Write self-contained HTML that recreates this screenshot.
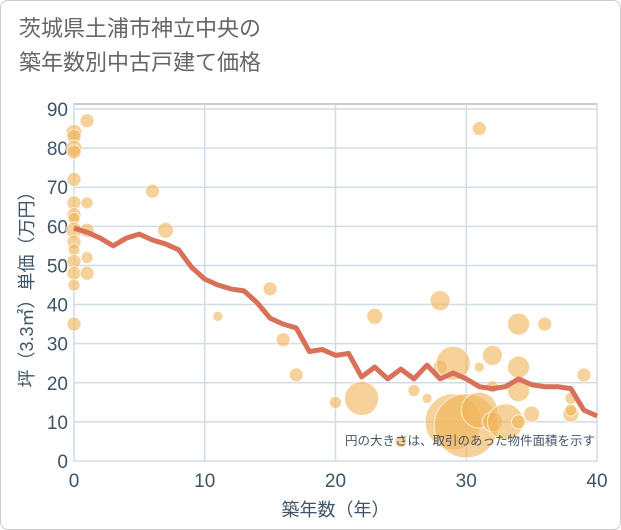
<!DOCTYPE html>
<html><head><meta charset="utf-8"><style>
body{margin:0;background:#fff;font-family:"Liberation Sans","Noto Sans CJK JP",sans-serif}
#wrap{position:relative;width:619px;height:528px;border:1px solid #ccc;border-radius:8px;overflow:hidden}
#title{position:absolute;left:18px;top:11px;font-size:22px;line-height:34px;color:#666}
</style></head><body>
<div id="wrap">
<div id="title">茨城県土浦市神立中央の<br>築年数別中古戸建て価格</div>
<svg id="svg" width="621" height="530" style="position:absolute;left:0;top:0"></svg>
</div>
<script>
const xTicks=[0,10,20,30,40];
const yTicks=[0,10,20,30,40,50,60,70,80,90];
const lineYears=[0,1,2,3,4,5,6,7,8,9,10,11,12,13,14,15,16,17,18,19,20,21,22,23,24,25,26,27,28,29,30,31,32,33,34,35,36,37,38,39,40];
const lineValues=[59.5,58.5,57,55,57,58,56.5,55.5,54,49.5,46.5,45,44,43.5,40.5,36.5,35,34,28,28.5,27,27.5,21.5,24,21,23.5,21,24.5,21,22.5,21,19,18.5,19,21,19.5,19,19,18.5,13,11.5];
const bubbleX=[0,0,0,0,0,0,0,0,0,0,0,0,0,0,0,1,1,1,1,1,6,7,11,15,16,17,20,22,23,25,26,27,28,28,29,29,30,31,31,31,32,32,32,33,34,34,34,34,35,36,38,38,38,39];
const bubbleY=[84,83,80,79,72,66,63,62,59,56,54,51,48,45,35,87,66,59,52,48,69,59,37,44,31,22,15,16,37,5,18,16,41,24,25,10,9,85,24,13,27,19,10,10,35,24,18,10,12,35,12,16,13,22];
const bubbleSize=[8,7,8,7,7,7,7,6,8,7,6,7,7,6,7,7,6,7,6,7,7,8,5,7,7,7,6,17,8,6,6,5,10,7,17,28,32,7,5,18,10,6,10,18,11,11,11,7,8,7,8,6,6,7];
const L=73,R=596,T=108,B=460;
const sx=v=>L+(v-0)/40*(R-L), sy=v=>B-v/90*(B-T);
const svg=document.getElementById('svg');const NS='http://www.w3.org/2000/svg';
function mk(t,a){const e=document.createElementNS(NS,t);for(const k in a)e.setAttribute(k,a[k]);svg.appendChild(e);return e;}
let e=mk('rect',{x:L,y:103,width:R-L,height:B-103,fill:'#fff',stroke:'#999'});


yTicks.forEach(v=>{const g=mk('line',{x1:L,x2:R,y1:sy(v),y2:sy(v),stroke:'#d0dce8','stroke-width':1.5});


const t=mk('text',{x:L-6,y:sy(v)+7,'text-anchor':'end','font-size':19,fill:'#3f5466'});t.textContent=v;

});
xTicks.forEach(v=>{const g=mk('line',{x1:sx(v),x2:sx(v),y1:103,y2:B,stroke:'#d0dce8','stroke-width':1.5});


const t=mk('text',{x:sx(v),y:B+26,'text-anchor':'middle','font-size':19,fill:'#3f5466'});t.textContent=v;

});
bubbleX.forEach((x,i)=>{const c=mk('circle',{cx:sx(x),cy:sy(bubbleY[i]),r:bubbleSize[i],fill:'rgba(240,180,90,0.62)',stroke:'rgba(255,255,255,0.7)','stroke-width':1});

});
const pl=mk('polyline',{points:lineYears.map((x,i)=>sx(x)+','+sy(lineValues[i])).join(' '),fill:'none',stroke:'#d9705a','stroke-width':5,'stroke-linejoin':'round'});


let n=mk('text',{x:594,y:444,'text-anchor':'end','font-size':12.5,fill:'#445566'});n.textContent='円の大きさは、取引のあった物件面積を示す';


let xt=mk('text',{x:(L+R)/2,y:515,'text-anchor':'middle','font-size':18,fill:'#3f5466'});xt.textContent='築年数（年）';


let yt=mk('text',{x:0,y:0,'text-anchor':'middle','font-size':18,fill:'#3f5466',transform:`translate(32,${(T+B)/2}) rotate(-90)`});yt.textContent='坪（3.3㎡）単価（万円）';


</script>
</body></html>
